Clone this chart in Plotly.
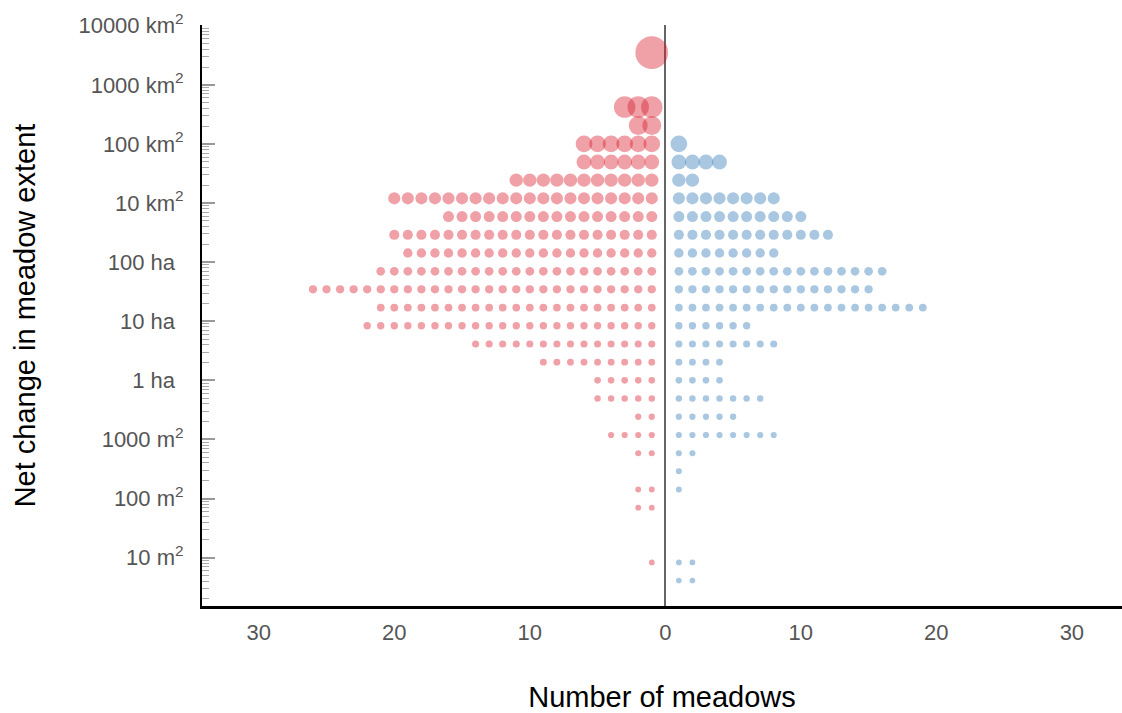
import numpy as np
import plotly.graph_objects as go

# Size bins of net change in meadow extent (m²), largest first
bin_area_m2 = [3.5e9, 4.2e8, 2.05e8, 1.0e8, 4.95e7, 2.44e7, 1.2e7, 5.9e6,
               2.9e6, 1.43e6, 7.0e5, 3.46e5, 1.7e5, 8.4e4, 4.13e4, 2.03e4,
               1.0e4, 4.92e3, 2.42e3, 1.19e3, 586, 289, 142, 70, 8.3, 4.1]

# Number of meadows per bin that lost extent (drawn left) / gained extent (drawn right)
n_loss = [1, 3, 2, 6, 6, 11, 20, 16, 20, 19, 21, 26, 21, 22, 14, 9,
          5, 5, 2, 4, 2, 0, 2, 2, 1, 0]
n_gain = [0, 0, 0, 1, 4, 2, 8, 10, 12, 8, 16, 15, 19, 6, 8, 4,
          4, 7, 5, 8, 2, 1, 1, 0, 2, 2]

# Y-axis labels
ytick_vals = [1e1, 1e2, 1e3, 1e4, 1e5, 1e6, 1e7, 1e8, 1e9, 1e10]
ytick_text = ["10 m<sup>2</sup>", "100 m<sup>2</sup>", "1000 m<sup>2</sup>",
              "1 ha<sup>\u2007</sup>", "10 ha<sup>\u2007</sup>", "100 ha<sup>\u2007</sup>",
              "10 km<sup>2</sup>", "100 km<sup>2</sup>", "1000 km<sup>2</sup>",
              "10000 km<sup>2</sup>"]
xtick_vals = [-30, -20, -10, 0, 10, 20, 30]
xtick_text = ["30", "20", "10", "0", "10", "20", "30"]


def dot_size(area):
    # marker diameter grows slowly with the magnitude of change
    return 5.5 + 0.112 * np.power(area, 0.25)


def stack(counts, sign):
    xs, ys, ss = [], [], []
    for area, n in zip(bin_area_m2, counts):
        for i in range(1, n + 1):
            xs.append(sign * i)
            ys.append(area)
            ss.append(dot_size(area))
    return xs, ys, ss


fig = go.Figure()
for counts, sign, color in [(n_loss, -1, "rgba(215,25,40,0.58)"),
                            (n_gain, 1, "rgba(44,118,182,0.58)")]:
    xs, ys, ss = stack(counts, sign)
    fig.add_trace(go.Scatter(
        x=xs, y=ys, mode="markers",
        marker=dict(size=ss, color=color, line=dict(width=0)),
        showlegend=False, hoverinfo="skip",
    ))

font_family = "Liberation Sans, Arial, sans-serif"
fig.update_layout(
    width=1122, height=713,
    margin=dict(l=202, r=0, t=25, b=107),
    paper_bgcolor="white", plot_bgcolor="white",
    font=dict(family=font_family),
)
fig.update_xaxes(
    range=[-34.19, 33.7],
    tickmode="array", tickvals=xtick_vals, ticktext=xtick_text,
    tickfont=dict(size=22, color="#555555", family=font_family),
    ticks="", ticklabelstandoff=5,
    showgrid=False,
    showline=True, linecolor="black", linewidth=3,
    zeroline=True, zerolinecolor="#666666", zerolinewidth=2,
    title=dict(text="Number of meadows", font=dict(size=29, color="black"), standoff=45),
)
fig.update_yaxes(
    type="log", range=[0.182, 10.012],
    tickmode="array", tickvals=ytick_vals, ticktext=ytick_text,
    tickfont=dict(size=22, color="#555555", family=font_family),
    ticks="inside", ticklen=13, tickcolor="#999999", tickwidth=1.5,
    minor=dict(ticks="inside", ticklen=7, tickcolor="#aaaaaa", tickwidth=1,
               dtick="D1", showgrid=False),
    ticklabelstandoff=12,
    showgrid=False, zeroline=False,
    showline=True, linecolor="black", linewidth=2,
    title=dict(text="Net change in meadow extent", font=dict(size=29, color="black"), standoff=34),
)

fig.write_html("out.html")
